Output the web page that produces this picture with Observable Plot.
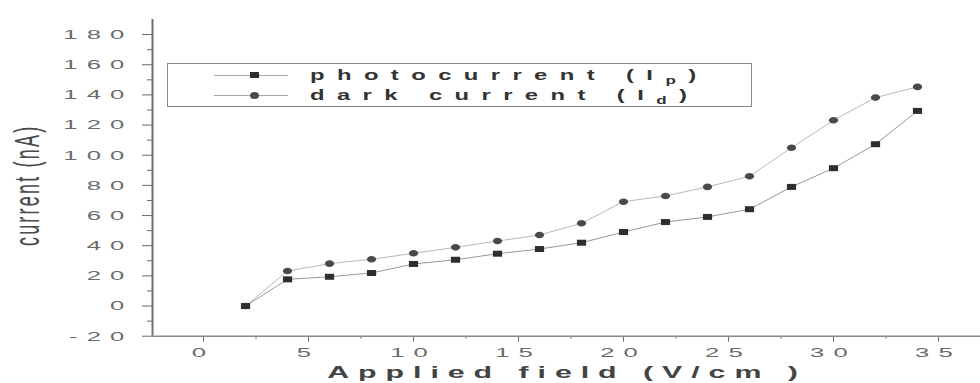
<!DOCTYPE html>
<html><head><meta charset="utf-8">
<script src="https://cdn.jsdelivr.net/npm/d3@7"></script>
<script src="https://cdn.jsdelivr.net/npm/@observablehq/plot@0.6"></script>
<style>
body{margin:0;background:#fff;}
#wrap{position:relative;width:980px;height:383px;font-family:"Liberation Sans",Arial,sans-serif;overflow:hidden;}
#legend{position:absolute;left:167px;top:63px;width:585px;height:44px;border:1.5px solid #8a8a8a;box-sizing:border-box;background:#fff;}
.row{position:absolute;left:0;width:100%;height:20px;}
.sline{position:absolute;left:46px;width:74px;top:9.5px;height:0;border-top:1px solid #a8a8a8;}
.msq{position:absolute;left:81.5px;top:7px;width:9px;height:6px;background:#2e2e2e;}
.mci{position:absolute;left:81.5px;top:6.5px;width:9px;height:7px;background:#4a4a4a;border-radius:50%;}
.ltxt{position:absolute;left:142px;top:0;line-height:20px;font-size:14px;font-weight:bold;letter-spacing:7.3px;color:#333;transform:scaleX(1.7);transform-origin:left center;white-space:nowrap;}
.ltxt sub{font-size:10px;vertical-align:-4px;}
</style>
</head><body>
<div id="wrap"></div>
<script>
const field = [2,4,6,8,10,12,14,16,18,20,22,24,26,28,30,32,34];
const photocurrent = [0,17.7,19.4,21.9,27.9,30.7,34.7,37.8,42.0,49.1,55.7,59.1,64.2,79.0,91.4,107.3,129.4];
const darkCurrent = [0,23.2,28.1,31.0,35.0,38.9,43.1,47.1,54.9,69.2,73.0,79.0,86.1,105.0,123.2,138.2,145.3];
const xTicks = [0,5,10,15,20,25,30,35];
const xMinorTicks = [2.5,7.5,12.5,17.5,22.5,27.5,32.5];
const yTicks = [-20,0,20,40,60,80,100,120,140,160,180];
const yMinorTicks = [-10,10,30,50,70,90,110,130,150,170];
const xDomain = [-2.43, 37];
const yDomain = [-20, 190];
const seriesNames = ["photocurrent (I", "dark current (I"];
const seriesSubs = ["p", "d"];
const xTitle = "Applied field (V/cm )";
const yTitle = "current (nA)";

const photoRows = field.map((f,i)=>({field:f, value:photocurrent[i]}));
const darkRows = field.map((f,i)=>({field:f, value:darkCurrent[i]}));

const wideRect = {draw(ctx){const w=4.6,h=3;ctx.moveTo(-w,-h);ctx.lineTo(w,-h);ctx.lineTo(w,h);ctx.lineTo(-w,h);ctx.closePath();}};
const ellipse = {draw(ctx){const a=4.6,b=3.3,k=0.5523;ctx.moveTo(a,0);ctx.bezierCurveTo(a,b*k,a*k,b,0,b);ctx.bezierCurveTo(-a*k,b,-a,b*k,-a,0);ctx.bezierCurveTo(-a,-b*k,-a*k,-b,0,-b);ctx.bezierCurveTo(a*k,-b,a,-b*k,a,0);ctx.closePath();}};

const chart = Plot.plot({
  width: 980, height: 383,
  marginLeft: 152, marginRight: 0, marginTop: 19, marginBottom: 47.3,
  style: {color: "#6a6a6a", background: "#fff", fontFamily: "Liberation Sans, Arial, sans-serif"},
  x: {domain: xDomain},
  y: {domain: yDomain},
  marks: [
    Plot.axisX(xMinorTicks, {tickSize: 3, tickFormat: () => "", label: null}),
    Plot.axisX(xTicks, {tickSize: 6, tickPadding: 5, tickFormat: d => String(d), fontSize: 13.5, label: xTitle, labelAnchor: "center", labelArrow: "none"}),
    Plot.axisY(yMinorTicks, {tickSize: 5, tickFormat: () => "", label: null}),
    Plot.axisY(yTicks, {tickSize: 10, tickPadding: 9, tickFormat: d => String(d), fontSize: 13.5, label: yTitle, labelAnchor: "center", labelArrow: "none"}),
    Plot.ruleY([yDomain[0]], {stroke: "#8a8a8a", strokeWidth: 1.5}),
    Plot.ruleX([xDomain[0]], {stroke: "#707070", strokeWidth: 2}),
    Plot.line(darkRows, {x: "field", y: "value", stroke: "#b8b8b8", strokeWidth: 1}),
    Plot.line(photoRows, {x: "field", y: "value", stroke: "#999", strokeWidth: 1}),
    Plot.dot(darkRows, {x: "field", y: "value", symbol: ellipse, fill: "#4a4a4a"}),
    Plot.dot(photoRows, {x: "field", y: "value", symbol: wideRect, fill: "#2e2e2e"})
  ]
});

// stretch the wide lettering of the original
function addScale(sel, sx, sy){
  sel.each(function(){const t=this.getAttribute("transform")||"";this.setAttribute("transform", t+` scale(${sx},${sy})`);});
}
const svg = d3.select(chart);
const tl = svg.selectAll('g[aria-label="x-axis tick label"] text, g[aria-label="y-axis tick label"] text');
tl.style("letter-spacing","4.8px").attr("fill","#6a6a6a");
addScale(tl, 1.9, 1);
const xs = chart.scale("x"), ys = chart.scale("y");
const cx = (xs.range[0]+xs.range[1])/2;
svg.selectAll('g[aria-label="x-axis label"]').attr("transform", null);
svg.selectAll('g[aria-label="x-axis label"] text')
  .text(xTitle)
  .attr("transform", `translate(${cx+1},372) scale(1.9,1)`)
  .attr("x", null).attr("y", null)
  .attr("dy","0.36em").attr("text-anchor","middle")
  .style("font-size","16px").style("font-weight","bold").style("letter-spacing","4.7px").attr("fill","#444");
const cy = (ys.range[0]+ys.range[1])/2;
svg.selectAll('g[aria-label="y-axis label"]').attr("transform", null);
svg.selectAll('g[aria-label="y-axis label"] text')
  .text(yTitle)
  .attr("transform", `translate(39,${cy+8}) rotate(-90) scale(1,1.95)`)
  .attr("x", null).attr("y", null)
  .attr("dy", null).attr("text-anchor","middle")
  .style("font-size","18px").style("letter-spacing","2.2px").attr("fill","#4a4a4a");

const wrap = document.getElementById("wrap");
wrap.appendChild(chart);
const legend = document.createElement("div");
legend.id = "legend";
legend.innerHTML = seriesNames.map((n,i)=>`<div class="row" style="top:${1+i*20}px"><div class="sline"></div><div class="${i===0?'msq':'mci'}"></div><div class="ltxt">${n}<sub>${seriesSubs[i]}</sub>)</div></div>`).join("");
wrap.appendChild(legend);
</script>
</body></html>
